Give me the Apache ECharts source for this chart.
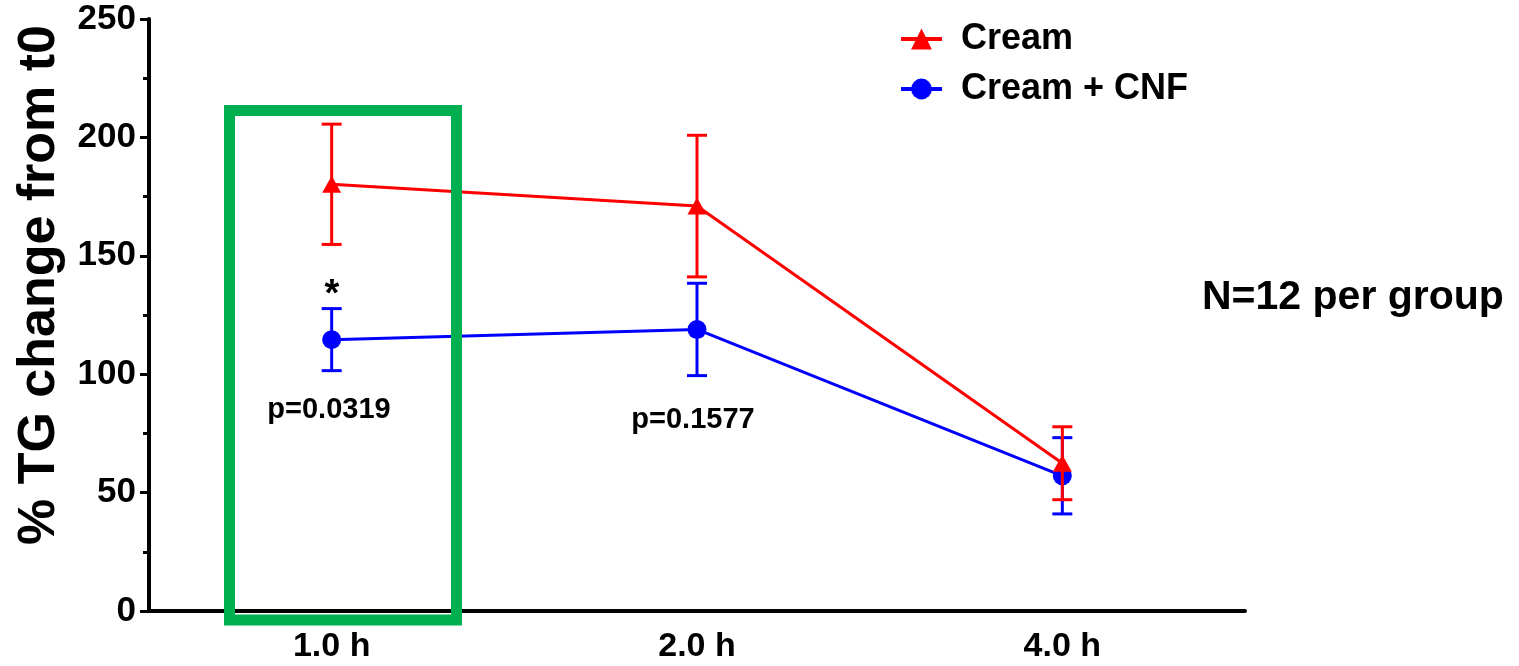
<!DOCTYPE html>
<html>
<head>
<meta charset="utf-8">
<script src="https://cdn.jsdelivr.net/npm/echarts@6/dist/echarts.min.js"></script>
<style>
  html, body { margin: 0; padding: 0; background: #fff; }
  #chart { width: 1519px; height: 666px; }
</style>
</head>
<body>
<div id="chart"></div>
<script>
// Time points after the meal
const timePoints = ['1.0 h', '2.0 h', '4.0 h'];
// Mean % TG change from t0 and SEM, per group
const creamMean = [180.2, 171.0, 62.4];
const creamSem  = [25.4, 29.9, 15.4];
const cnfMean   = [114.6, 118.9, 57.1];
const cnfSem    = [13.1, 19.5, 16.1];
// Y axis range and ticks
const yMin = 0, yMax = 250, yStep = 50;

const FONT = '"Liberation Sans", Arial, Helvetica, sans-serif';
const RED = '#ff0000', BLUE = '#0000ff', GREEN = '#00b050';

function errorBars(mean, sem) {
  return mean.map((m, i) => [i, m - sem[i], m + sem[i]]);
}

function errorRenderer(color) {
  return function (params, api) {
    const x = api.value(0);
    const lo = api.coord([x, api.value(1)]);
    const hi = api.coord([x, api.value(2)]);
    const half = 10;
    const style = { stroke: color, lineWidth: 3, fill: null };
    return {
      type: 'group',
      children: [
        { type: 'line', shape: { x1: lo[0], y1: lo[1], x2: hi[0], y2: hi[1] }, style },
        { type: 'line', shape: { x1: hi[0] - half, y1: hi[1], x2: hi[0] + half, y2: hi[1] }, style },
        { type: 'line', shape: { x1: lo[0] - half, y1: lo[1], x2: lo[0] + half, y2: lo[1] }, style }
      ]
    };
  };
}

const chart = echarts.init(document.getElementById('chart'), null, { renderer: 'canvas' });

const option = {
  backgroundColor: '#ffffff',
  animation: false,
  textStyle: { fontFamily: FONT },
  grid: { left: 149, right: 274, top: 19, bottom: 55, containLabel: false },
  legend: {
    orient: 'vertical',
    left: 894,
    top: 15,
    itemWidth: 41,
    itemHeight: 26,
    itemGap: 12,
    lineStyle: { width: 4 },
    data: ['Cream', 'Cream + CNF'],
    textStyle: {
      fontFamily: FONT, fontWeight: 'bold', fontSize: 36, color: '#000',
      lineHeight: 38, padding: [0, 0, 0, 14]
    }
  },
  xAxis: {
    type: 'category',
    data: timePoints,
    boundaryGap: true,
    axisLine: { lineStyle: { color: '#000', width: 4 } },
    axisTick: { alignWithLabel: true, length: 9, lineStyle: { color: '#000', width: 3 } },
    axisLabel: {
      color: '#000', fontFamily: FONT, fontWeight: 'bold', fontSize: 34, margin: 19
    },
    splitLine: { show: false }
  },
  yAxis: {
    type: 'value',
    min: yMin, max: yMax, interval: yStep,
    axisLine: { show: true, lineStyle: { color: '#000', width: 4 } },
    axisTick: { show: true, length: 9, lineStyle: { color: '#000', width: 3 } },
    minorTick: { show: true, splitNumber: 2, length: 6, lineStyle: { color: '#000', width: 3 } },
    axisLabel: {
      color: '#000', fontFamily: FONT, fontWeight: 'bold', fontSize: 35, margin: 13
    },
    splitLine: { show: false }
  },
  series: [
    {
      name: 'Cream + CNF',
      type: 'line',
      data: cnfMean,
      z: 2,
      symbol: 'circle',
      symbolSize: 19,
      lineStyle: { color: BLUE, width: 3 },
      itemStyle: { color: BLUE }
    },
    {
      name: 'Cream + CNF',
      type: 'custom',
      data: errorBars(cnfMean, cnfSem),
      z: 2,
      renderItem: errorRenderer(BLUE),
      encode: { x: 0, y: [1, 2] },
      tooltip: { show: false }
    },
    {
      name: 'Cream',
      type: 'line',
      data: creamMean,
      z: 4,
      symbol: 'triangle',
      symbolSize: [19, 17],
      lineStyle: { color: RED, width: 3 },
      itemStyle: { color: RED }
    },
    {
      name: 'Cream',
      type: 'custom',
      data: errorBars(creamMean, creamSem),
      z: 4,
      renderItem: errorRenderer(RED),
      encode: { x: 0, y: [1, 2] },
      tooltip: { show: false }
    }
  ]
};

chart.setOption(option);

// Annotations: axis title, highlight box, significance marks and group size
const boldText = (text, size) => ({ text, fill: '#000', font: `bold ${size}px ${FONT}` });
chart.setOption({
  graphic: [
    {
      type: 'text', x: 40, y: 285, rotation: Math.PI / 2,
      style: Object.assign(boldText('% TG change from t0', 52), { align: 'center', verticalAlign: 'middle' }),
      z: 10
    },
    {
      type: 'rect', z: 20,
      shape: { x: 229.5, y: 110.5, width: 227, height: 509.5 },
      style: { fill: null, stroke: GREEN, lineWidth: 11 }
    },
    {
      type: 'text', x: 332, y: 296,
      style: Object.assign(boldText('*', 38), { align: 'center', verticalAlign: 'middle' }), z: 10
    },
    {
      type: 'text', x: 329, y: 410,
      style: Object.assign(boldText('p=0.0319', 29), { align: 'center', verticalAlign: 'middle' }), z: 10
    },
    {
      type: 'text', x: 693, y: 420,
      style: Object.assign(boldText('p=0.1577', 29), { align: 'center', verticalAlign: 'middle' }), z: 10
    },
    {
      type: 'text', x: 1202, y: 298,
      style: Object.assign(boldText('N=12 per group', 41), { align: 'left', verticalAlign: 'middle' }), z: 10
    }
  ]
});
</script>
</body>
</html>
